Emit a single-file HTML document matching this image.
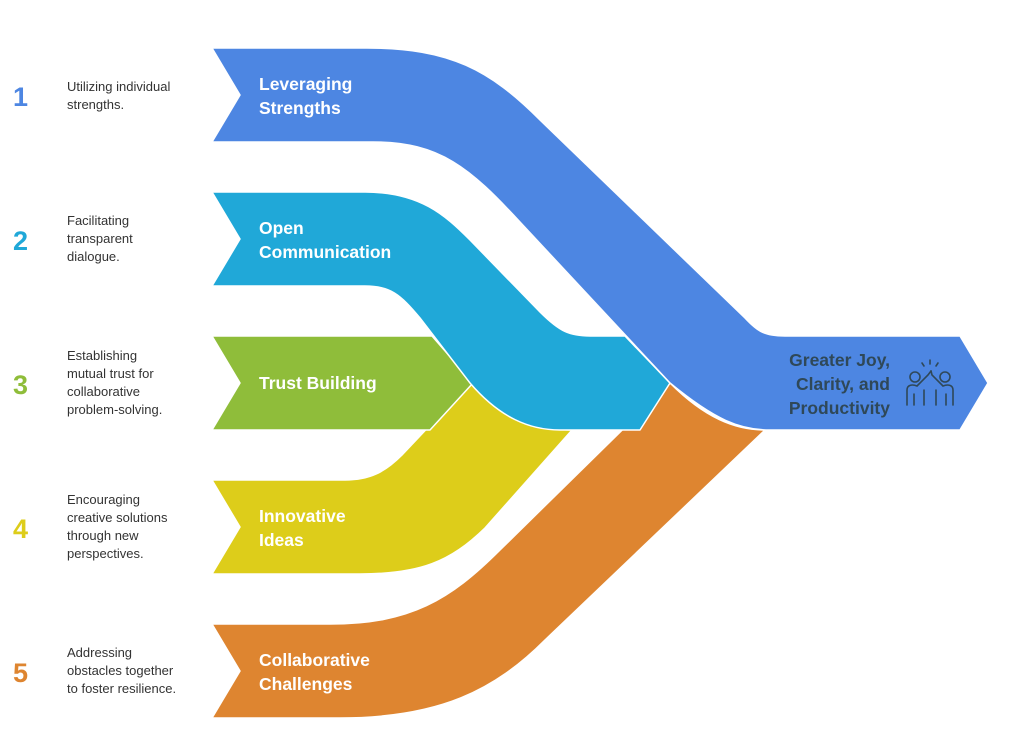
<!DOCTYPE html>
<html><head><meta charset="utf-8"><style>
body{margin:0;background:#fff;width:1010px;height:750px;overflow:hidden;font-family:"Liberation Sans",sans-serif}
</style></head><body>
<svg width="1010" height="750" viewBox="0 0 1010 750" xmlns="http://www.w3.org/2000/svg" font-family="Liberation Sans, sans-serif">
<g stroke="#fff" stroke-width="1.5" stroke-linejoin="round">
<path fill="#DE8530" d="M212,624 L330,624 C410,624 450,600 500,550 L670,383 C705,418 735,430 765,430 L545,640 C495,690 440,718 340,718 L212,718 L240,671 Z"/>
<path fill="#DDCD1A" d="M212,480 L345,480 C370,480 385,472 402,455 L470,383 C505,415 535,430 572,430 L485,528 C450,562 420,574 360,574 L212,574 L240,527 Z"/>
<path fill="#8FBD3A" d="M212,336 L432,336 L473,383 L430,430 L212,430 L240,383 Z"/>
<path fill="#20A8D8" d="M212,192 L365,192 C420,192 445,215 470,240 L540,312 C560,332 570,336 590,336 L625,336 L670,383 L640,430 L560,430 C530,430 500,418 470,383 L420,318 C400,294 390,286 365,286 L212,286 L240,239 Z"/>
<path fill="#4D86E2" d="M212,48 L367,48 C450,48 490,70 540,120 L745,318 C758,332 765,336 785,336 L960,336 L988,383 L960,430 L770,430 C740,430 715,420 670,383 L520,222 C470,168 440,142 373,142 L212,142 L240,95 Z"/>
</g>
<g fill="#fff" font-weight="bold" font-size="17.5">
<text x="259" y="90">Leveraging</text><text x="259" y="114">Strengths</text>
<text x="259" y="234">Open</text><text x="259" y="258">Communication</text>
<text x="259" y="389">Trust Building</text>
<text x="259" y="522">Innovative</text><text x="259" y="546">Ideas</text>
<text x="259" y="666">Collaborative</text><text x="259" y="690">Challenges</text>
</g>
<g fill="#2F4858" font-weight="bold" font-size="17.5" text-anchor="end">
<text x="890" y="366">Greater Joy,</text><text x="890" y="390">Clarity, and</text><text x="890" y="414">Productivity</text>
</g>
<g stroke="#2F4858" stroke-width="1.6" fill="none" stroke-linecap="round">
<circle cx="915" cy="377" r="5"/><circle cx="945" cy="377" r="5"/>
<path d="M907,405 L907,390 C907,385 912,384 917,386 L928,375 L931,371"/>
<path d="M953,405 L953,390 C953,385 948,384 943,386 L932,375 L931,371"/>
<path d="M914,405 L914,394 M946,405 L946,394 M924,405 L924,390 M936,405 L936,390"/>
<path d="M930,360 L930,364 M922,363 L924,366 M938,363 L936,366"/>
</g>
<g font-weight="bold" font-size="27">
<text x="13" y="106" fill="#4D86E2">1</text>
<text x="13" y="250" fill="#20A8D8">2</text>
<text x="13" y="394" fill="#8FBD3A">3</text>
<text x="13" y="538" fill="#DDCD1A">4</text>
<text x="13" y="682" fill="#DE8530">5</text>
</g>
<g fill="#333" font-size="13">
<text x="67" y="91">Utilizing individual</text><text x="67" y="109">strengths.</text>
<text x="67" y="225">Facilitating</text><text x="67" y="243">transparent</text><text x="67" y="261">dialogue.</text>
<text x="67" y="360">Establishing</text><text x="67" y="378">mutual trust for</text><text x="67" y="396">collaborative</text><text x="67" y="414">problem-solving.</text>
<text x="67" y="504">Encouraging</text><text x="67" y="522">creative solutions</text><text x="67" y="540">through new</text><text x="67" y="558">perspectives.</text>
<text x="67" y="657">Addressing</text><text x="67" y="675">obstacles together</text><text x="67" y="693">to foster resilience.</text>
</g>
</svg>
</body></html>
